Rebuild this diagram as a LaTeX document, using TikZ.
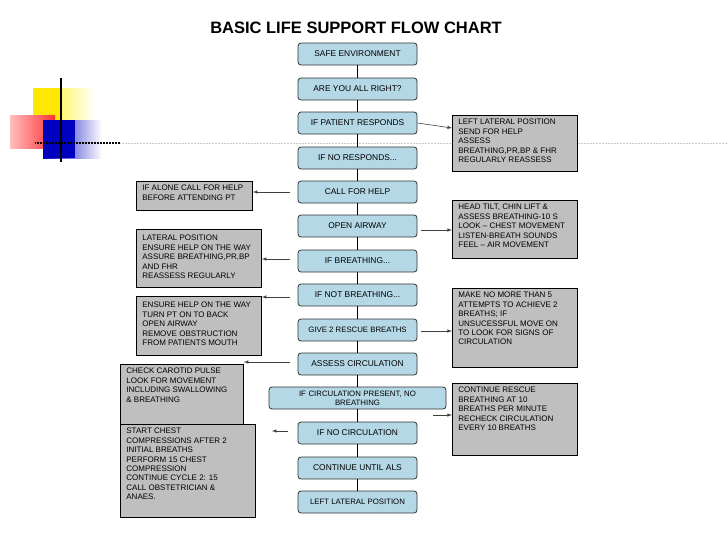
\documentclass[tikz,border=0pt]{standalone}
\usepackage{fontspec}
\setmainfont{Liberation Sans}
\newcommand{\nt}[3]{\parbox[t][#2][t]{#1}{#3}}
\begin{document}
\begin{tikzpicture}[x=1pt,y=-1pt,
  flow/.style={draw=black!80,line width=0.8pt,rounded corners=3pt,fill=cyan!25!white!90!black,minimum width=119pt,minimum height=22pt,font=\fontsize{8.4}{9.5}\selectfont,align=center,inner sep=1pt},
  note/.style={draw=black,line width=0.8pt,fill=black!25,anchor=north west,font=\fontsize{8}{9.4}\selectfont,align=left,inner xsep=6pt,inner ysep=4pt},
  arr/.style={-latex,line width=0.6pt,black!75},
  link/.style={line width=1.6pt}]
\useasboundingbox (0,0) rectangle (728,546);
% decoration
\shade[left color=yellow!90!orange,right color=white] (33,88) rectangle (95,125);
\fill[yellow!90!orange] (33,88) rectangle (60,125);
\shade[left color=red!25,right color=red!80] (10,115) rectangle (55,148);
\shade[left color=blue!75!black,right color=white] (43,120) rectangle (102,158);
\fill[blue!75!black] (43,120) rectangle (75,158);
\draw[line width=1.5pt] (61,78) -- (61,162);
\draw[line width=1.2pt,dash pattern=on 1pt off 0.5pt] (35,143) -- (120,143);
\draw[line width=1pt,black!20,dash pattern=on 1pt off 0.5pt] (120,143) -- (728,143);
\node[font=\bfseries\fontsize{16.5}{18}\selectfont] (title) at (356,28) {BASIC LIFE SUPPORT FLOW CHART};
% main chain
\node[flow] (s1) at (357.5,54) {SAFE ENVIRONMENT};
\node[flow] (s2) at (357.5,89) {ARE YOU ALL RIGHT?};
\node[flow] (s3) at (357.5,123) {IF PATIENT RESPONDS};
\node[flow] (s4) at (357.5,158) {IF NO RESPONDS...};
\node[flow] (s5) at (357.5,192) {CALL FOR HELP};
\node[flow] (s6) at (357.5,226) {OPEN AIRWAY};
\node[flow] (s7) at (357.5,261) {IF BREATHING...};
\node[flow] (s8) at (357.5,295) {IF NOT BREATHING...};
\node[flow,font=\fontsize{7.8}{9}\selectfont] (s9) at (357.5,330) {GIVE 2 RESCUE BREATHS};
\node[flow] (s10) at (357.5,364) {ASSESS CIRCULATION};
\node[flow,minimum width=177pt,text width=170pt,font=\fontsize{7.8}{9}\selectfont] (s11) at (357.5,398) {IF CIRCULATION PRESENT, NO\\BREATHING};
\node[flow] (s12) at (357.5,433) {IF NO CIRCULATION};
\node[flow] (s13) at (357.5,468) {CONTINUE UNTIL ALS};
\node[flow,font=\fontsize{7.8}{9}\selectfont] (s14) at (357.5,502) {LEFT LATERAL POSITION};
\foreach \a/\b in {s1/s2,s2/s3,s3/s4,s4/s5,s5/s6,s6/s7,s7/s8,s8/s9,s9/s10,s10/s11,s11/s12,s12/s13,s13/s14}
  \draw[link] (\a) -- (\b);
% right notes
\node[note] (r1) at (452,115) {\nt{113pt}{48pt}{LEFT LATERAL POSITION\\SEND FOR HELP\\ASSESS\\BREATHING,PR,BP \& FHR\\REGULARLY REASSESS}};
\node[note] (r2) at (452,200) {\nt{113pt}{50pt}{HEAD TILT, CHIN LIFT \&\\ASSESS BREATHING-10 S\\LOOK – CHEST MOVEMENT\\LISTEN-BREATH SOUNDS\\FEEL – AIR MOVEMENT}};
\node[note] (r3) at (452,288) {\nt{113pt}{71pt}{MAKE NO MORE THAN 5\\ATTEMPTS TO ACHIEVE 2\\BREATHS; IF\\UNSUCESSFUL MOVE ON\\TO LOOK FOR SIGNS OF\\CIRCULATION}};
\node[note] (r4) at (452,383) {\nt{113pt}{64pt}{CONTINUE RESCUE\\BREATHING AT 10\\BREATHS PER MINUTE\\RECHECK CIRCULATION\\EVERY 10 BREATHS}};
% left notes
\node[note] (l1) at (136,181) {\nt{104pt}{21pt}{IF ALONE CALL FOR HELP\\BEFORE ATTENDING PT}};
\node[note,inner ysep=6pt] (l2) at (136,229) {\nt{113pt}{46pt}{LATERAL POSITION\\ENSURE HELP ON THE WAY\\ASSURE BREATHING,PR,BP\\AND FHR\\REASSESS REGULARLY}};
\node[note,inner ysep=6pt] (l3) at (136,296) {\nt{113pt}{47pt}{ENSURE HELP ON THE WAY\\TURN PT ON TO BACK\\OPEN AIRWAY\\REMOVE OBSTRUCTION\\FROM PATIENTS MOUTH}};
\node[note] (l4) at (120,364) {\nt{111pt}{53pt}{CHECK CAROTID PULSE\\LOOK FOR MOVEMENT\\INCLUDING SWALLOWING\\\& BREATHING}};
\node[note] (l5) at (120,424) {\nt{123pt}{85pt}{START CHEST\\COMPRESSIONS AFTER 2\\INITIAL BREATHS\\PERFORM 15 CHEST\\COMPRESSION\\CONTINUE CYCLE 2: 15\\CALL OBSTETRICIAN \&\\ANAES.}};
% arrows
\draw[arr] (s3.east) -- (r1.west |- 0,128);
\draw[arr] ([xshift=4pt]s6.east |- 0,230) -- (r2.west |- 0,230);
\draw[arr] ([xshift=4pt]s9.east |- 0,331) -- (r3.west |- 0,331);
\draw[arr] ([xshift=-13pt]s11.east |- 0,415) -- (r4.west |- 0,415);
\draw[arr] ([xshift=-8pt]s5.west) -- (l1.east |- s5);
\draw[arr] ([xshift=-8pt]s7.west |- 0,259) -- (l2.east |- 0,259);
\draw[arr] ([xshift=-8pt]s8.west |- 0,297) -- (l3.east |- 0,297);
\draw[arr] ([xshift=-8pt]s10.west |- 0,362) -- (l4.east |- 0,362);
\draw[arr] ([xshift=-10pt]s12.west |- 0,431) -- ([xshift=16pt]l5.east |- 0,431);
\end{tikzpicture}
\end{document}
